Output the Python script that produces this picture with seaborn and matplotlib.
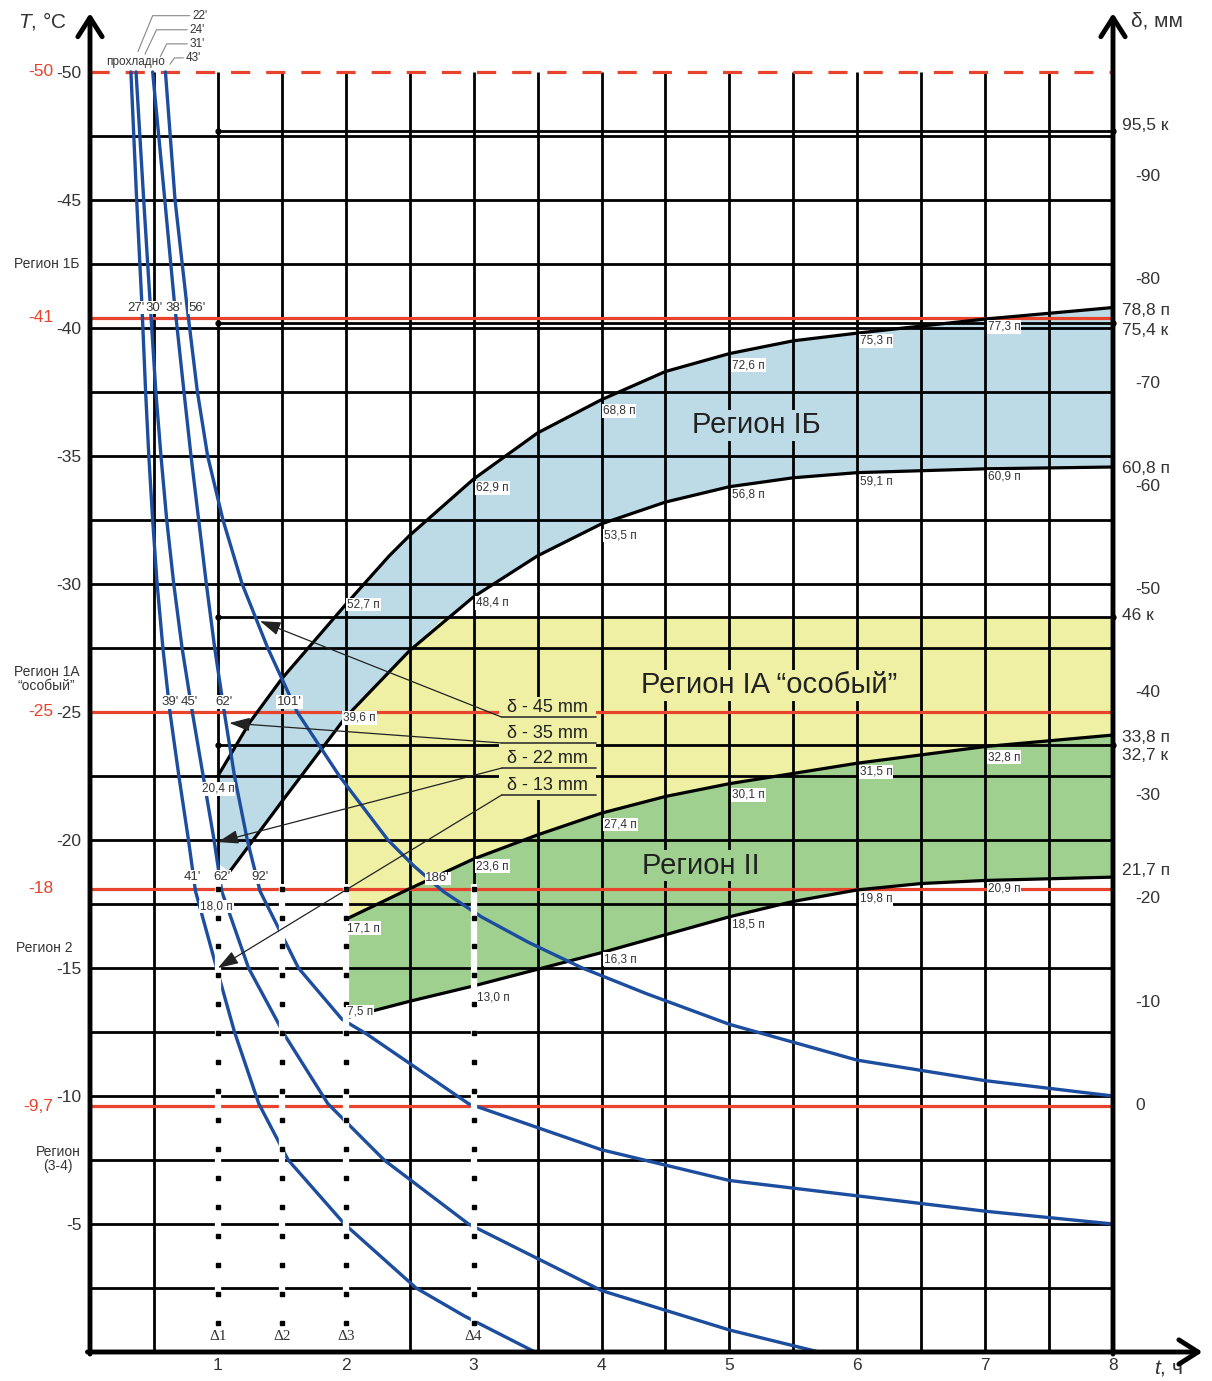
import numpy as np
import matplotlib
matplotlib.use("Agg")
import matplotlib.pyplot as plt
from matplotlib.patches import Rectangle
import seaborn as sns

sns.set_theme(style="white")
plt.rcParams["font.family"] = ["Liberation Sans", "DejaVu Sans"]
plt.rcParams["mathtext.fontset"] = "custom"
plt.rcParams["mathtext.it"] = "Liberation Sans:italic"
plt.rcParams["mathtext.rm"] = "Liberation Sans"

# ──────────────────────────────────────────
# DATA   t in hours, T in °C
# ──────────────────────────────────────────
# freezing-time curves for δ = 13 / 22 / 35 / 45 mm
t_13 = [0.32, 0.365, 0.405, 0.435, 0.46, 0.49, 0.525, 0.57, 0.625, 0.695, 0.77, 0.825, 0.99, 1.13, 1.32, 1.55, 1.99, 2.55, 2.93, 3.48]
T_13 = [-50, -45, -41, -37.5, -35, -32.5, -30, -27.5, -25, -22.5, -20, -18, -15, -12.5, -9.7, -7.5, -5, -2.5, -1.4, 0]
t_22 = [0.36, 0.42, 0.47, 0.515, 0.555, 0.60, 0.655, 0.72, 0.80, 0.885, 0.97, 1.03, 1.24, 1.52, 1.86, 2.3, 2.96, 4.0, 5.0, 5.7]
T_22 = [-50, -45, -41, -37.5, -35, -32.5, -30, -27.5, -25, -22.5, -20, -18, -15, -12.4, -9.7, -7.5, -5, -2.4, -0.86, 0]
t_35 = [0.49, 0.585, 0.66, 0.735, 0.79, 0.85, 0.91, 0.975, 1.05, 1.13, 1.23, 1.33, 1.63, 1.97, 2.17, 2.96, 4.0, 5.0, 6.0, 7.0, 8.0]
T_35 = [-50, -45, -41, -37.5, -35, -32.5, -30, -27.5, -25, -22.5, -20, -18, -15, -13, -12.4, -9.7, -7.9, -6.7, -6.1, -5.5, -5.0]
t_45 = [0.59, 0.665, 0.755, 0.84, 0.92, 1.04, 1.19, 1.39, 1.62, 1.95, 2.33, 2.53, 2.76, 3.06, 3.43, 3.85, 4.35, 5.0, 6.0, 7.0, 8.0]
T_45 = [-50, -45, -41, -37.5, -35, -32.5, -30, -27.5, -25, -22.5, -20, -19, -18, -17, -16, -15, -14, -12.8, -11.4, -10.6, -10.0]

# region boundaries
t_u1 = [1, 1.25, 1.5, 2, 2.34, 2.5, 3, 3.5, 4, 4.5, 5, 5.5, 6, 7, 8]
T_u1 = [-22.5, -24.6, -26.3, -29.2, -31.1, -31.9, -34.1, -35.9, -37.2, -38.3, -39.0, -39.5, -39.8, -40.35, -40.8]
t_l1 = [1.09, 1.5, 2, 2.5, 3, 3.5, 4, 4.5, 5, 5.5, 6, 7, 8]
T_l1 = [-18.75, -21.5, -24.8, -27.4, -29.5, -31.1, -32.35, -33.2, -33.8, -34.15, -34.35, -34.5, -34.57]
t_u2 = [2, 2.5, 3, 3.5, 4, 4.5, 5, 5.5, 6, 7, 8]
T_u2 = [-16.9, -18.1, -19.26, -20.2, -21.05, -21.7, -22.2, -22.6, -23.0, -23.65, -24.1]
t_l2 = [2, 2.5, 3, 3.5, 4, 4.5, 5, 5.5, 6, 6.5, 7, 8]
T_l2 = [-13.05, -13.7, -14.3, -14.95, -15.6, -16.3, -17.0, -17.6, -18.05, -18.3, -18.42, -18.55]
T_k_line = -28.7          # "46 к" – top of region IA
t_ia_cross = 2.77         # where the lower IБ curve meets it

# horizontal marker lines
red_T = [-40.4, -25, -18.1, -9.6]
red_labels = ["-41", "-25", "-18", "-9,7"]
k_T = [-47.7, -40.2, -28.7, -23.7]

# axes ticks
T_ticks = [-50, -45, -40, -35, -30, -25, -20, -15, -10, -5]
d_ticks = [90, 80, 70, 60, 50, 40, 30, 20, 10, 0]
right_T = [-47.9, -40.7, -39.9, -34.5, -28.75, -24.0, -23.3, -18.8]
right_labels = ["95,5 к", "78,8 п", "75,4 к", "60,8 п", "46 к", "33,8 п", "32,7 к", "21,7 п"]

# curve value labels (left edge t, T, text)
val_labels = [
    (0.875, -22.0, "20,4 п"), (2.01, -29.2, "52,7 п"), (3.02, -33.75, "62,9 п"), (4.01, -36.76, "68,8 п"),
    (5.02, -38.55, "72,6 п"), (6.02, -39.5, "75,3 п"), (7.02, -40.04, "77,3 п"),
    (1.98, -24.77, "39,6 п"), (3.02, -29.26, "48,4 п"), (4.02, -31.9, "53,5 п"), (5.02, -33.5, "56,8 п"),
    (6.02, -34.0, "59,1 п"), (7.02, -34.2, "60,9 п"),
    (2.01, -16.56, "17,1 п"), (3.02, -18.98, "23,6 п"), (4.02, -20.6, "27,4 п"), (5.02, -21.76, "30,1 п"),
    (6.02, -22.66, "31,5 п"), (7.02, -23.24, "32,8 п"),
    (2.01, -13.3, "7,5 п"), (3.03, -13.83, "13,0 п"), (4.02, -15.35, "16,3 п"), (5.02, -16.7, "18,5 п"),
    (6.02, -17.7, "19,8 п"), (7.02, -18.1, "20,9 п"), (0.86, -17.4, "18,0 п"),
]
# freezing-time labels (centre t, T, text)
time_labels = [
    (0.36, -40.8, "27'"), (0.5, -40.8, "30'"), (0.66, -40.8, "38'"), (0.84, -40.8, "56'"),
    (0.625, -25.4, "39'"), (0.78, -25.4, "45'"), (1.05, -25.4, "62'"), (1.56, -25.4, "101'"),
    (0.80, -18.55, "41'"), (1.03, -18.55, "62'"), (1.33, -18.55, "92'"), (2.72, -18.5, "186'"),
]
top_labels = ["22'", "24'", "31'", "43'"]
top_T = [-52.2, -51.65, -51.1, -50.55]

delta_names = ["δ - 45 mm", "δ - 35 mm", "δ - 22 mm", "δ - 13 mm"]
delta_tips = [(1.33, -28.55), (1.09, -24.57), (1.0, -19.92), (1.0, -15.0)]
delta_line_T = [-24.8, -23.79, -22.81, -21.76]

delta_marks = [1, 1.5, 2, 3]
delta_mark_names = ["Δ1", "Δ2", "Δ3", "Δ4"]

RED = "#e8432d"
BLUE = "#1c4d9e"
C_IB = "#bddbe6"
C_IA = "#eff0a3"
C_II = "#9fd08f"
GREY = "#333333"

# ──────────────────────────────────────────
# FIGURE
# ──────────────────────────────────────────
fig = plt.figure(figsize=(12.12, 13.81), dpi=100)
ax = fig.add_axes([90 / 1212, 29 / 1381, 8.7 * 127.875 / 1212, 52.3 * 25.6 / 1381])
ax.set_xlim(0, 8.7)
ax.set_ylim(0, -52.3)
for s in ax.spines.values():
    s.set_visible(False)
ax.set_facecolor("white")

# fills
ax.fill(t_u1 + t_l1[::-1] + [1.0], T_u1 + T_l1[::-1] + [-19.1], color=C_IB, lw=0, zorder=1)
ia_t = [2, 2, 2.5, t_ia_cross, 8] + t_u2[::-1]
ia_T = [T_u2[0], T_l1[2], T_l1[3], T_k_line, T_k_line] + T_u2[::-1]
ax.fill(ia_t, ia_T, color=C_IA, lw=0, zorder=1)
ax.fill(t_u2 + t_l2[::-1], T_u2 + T_l2[::-1], color=C_II, lw=0, zorder=1)

# grid
ax.hlines(np.arange(-47.5, 0, 2.5), 0, 8, color="black", lw=2, zorder=2)
for x in np.arange(0.5, 8, 0.5):
    ax.vlines(x, -50, -18.1 if x in delta_marks else 0, color="black", lw=2, zorder=2)

# "к" lines
ax.hlines(k_T, 1, 8, color="black", lw=2, zorder=2)
ax.plot([1] * len(k_T) + [8] * len(k_T), k_T + k_T, ls="none", marker="o", ms=3.5, color="black", zorder=3)

# red lines
ax.hlines(-50, 0, 8, color=RED, lw=2.3, linestyles=(0, (6, 5)), zorder=3)
ax.hlines(red_T, 0, 8, color=RED, lw=2.3, zorder=3)

# region boundaries
for tt, TT in [(t_u1, T_u1), (t_l1, T_l1), (t_u2, T_u2), (t_l2, T_l2)]:
    sns.lineplot(x=tt, y=TT, ax=ax, color="black", lw=2.3, sort=False, estimator=None, legend=False, zorder=3)

# freezing curves
for tt, TT in [(t_13, T_13), (t_22, T_22), (t_35, T_35), (t_45, T_45)]:
    sns.lineplot(x=tt, y=TT, ax=ax, color=BLUE, lw=2.4, sort=False, estimator=None, legend=False, zorder=4)

# dotted Δ lines
dot_T = np.arange(-18.1, -1.0, 1.13)
for x in delta_marks:
    ax.vlines(x, -18.3, 0, color="white", lw=4.5, zorder=5)
    ax.plot([x] * len(dot_T), dot_T, ls="none", marker="s", ms=3, color="black", zorder=6)
for x, name in zip(delta_marks, delta_mark_names):
    ax.text(x, -0.62, name, ha="center", va="center", fontsize=11, color=GREY,
            family=["Liberation Serif", "DejaVu Serif"], zorder=7)

# axes with arrows
arrow = dict(arrowstyle="->,head_length=0.55,head_width=0.35", lw=3.5, color="black",
             mutation_scale=25, shrinkA=0, shrinkB=0)
ax.annotate("", xy=(0, -52.3), xytext=(0, 0.08), arrowprops=arrow, annotation_clip=False, zorder=8)
ax.annotate("", xy=(8, -52.3), xytext=(8, 0.08), arrowprops=arrow, annotation_clip=False, zorder=8)
ax.annotate("", xy=(8.7, 0), xytext=(-0.02, 0), arrowprops=arrow, annotation_clip=False, zorder=8)

# ticks
ax.set_yticks(T_ticks, [str(v) for v in T_ticks])
ax.set_xticks(range(1, 9), [str(v) for v in range(1, 9)])
ax.tick_params(axis="both", length=0, labelsize=12.5, labelcolor=GREY)
ax.tick_params(axis="y", pad=6)
ax.tick_params(axis="x", pad=4)

sec = ax.secondary_yaxis(8 / 8.7, functions=(lambda T: (-T - 9.7) / 0.403, lambda d: -(9.7 + 0.403 * d)))
sec.set_yticks(d_ticks, ["0" if d == 0 else f"-{d}" for d in d_ticks])
sec.tick_params(length=0, pad=16, labelsize=12.5, labelcolor=GREY)
for s in sec.spines.values():
    s.set_visible(False)

for T, lab in zip(right_T, right_labels):
    ax.text(8.07, T, lab, ha="left", va="center", fontsize=12.5, color=GREY, clip_on=False)

# red labels on the left
ax.text(-0.29, -50, "-50", ha="right", va="center", fontsize=12.5, color=RED)
for T, lab in zip(red_T, red_labels):
    ax.text(-0.29, T, lab, ha="right", va="center", fontsize=12.5, color=RED)

# region names on the left
ax.text(-0.34, -42.5, "Регион 1Б", ha="center", va="center", fontsize=10, color=GREY)
ax.text(-0.34, -26.3, "Регион 1А\n\u201cособый\u201d", ha="center", va="center", fontsize=10, color=GREY, linespacing=1.0)
ax.text(-0.36, -15.8, "Регион 2", ha="center", va="center", fontsize=10, color=GREY)
ax.text(-0.25, -7.55, "Регион\n(3-4)", ha="center", va="center", fontsize=10, color=GREY, linespacing=1.0)

# axis titles
ax.text(-0.375, -52.0, "$T$, °C", ha="center", va="center", fontsize=15, color=GREY)
ax.text(8.14, -52.0, "δ, мм", ha="left", va="center", fontsize=15, color=GREY)
ax.text(8.43, 0.62, "$t$, ч", ha="center", va="center", fontsize=15, color=GREY)

# region names inside
ax.text(5.21, -36.2, "Регион IБ", ha="center", va="center", fontsize=21, color="#222",
        bbox=dict(facecolor=C_IB, edgecolor="none", pad=1), zorder=7)
ax.text(5.31, -26.05, "Регион IA \u201cособый\u201d", ha="center", va="center", fontsize=21, color="#222",
        bbox=dict(facecolor=C_IA, edgecolor="none", pad=1), zorder=7)
ax.text(4.78, -19.0, "Регион II", ha="center", va="center", fontsize=21, color="#222",
        bbox=dict(facecolor=C_II, edgecolor="none", pad=1), zorder=7)

# value labels
for t, T, lab in val_labels:
    ax.text(t, T, lab, ha="left", va="center", fontsize=8.5, color=GREY,
            bbox=dict(facecolor="white", edgecolor="none", pad=0.6), zorder=7)
for t, T, lab in time_labels:
    ax.text(t, T, lab, ha="center", va="center", fontsize=9.5, color=GREY,
            bbox=dict(facecolor="white", edgecolor="none", pad=0.6), zorder=7)

# top notes
ax.text(0.36, -50.4, "прохладно", ha="center", va="center", fontsize=8.5, color=GREY, zorder=7)
top_lead = [((0.78, 0.49, 0.375), -50.8), ((0.76, 0.52, 0.43), -50.7), ((0.76, 0.60, 0.55), -50.6), ((0.73, 0.66, 0.625), -50.3)]
for (xs, T_end), T, lab in zip(top_lead, top_T, top_labels):
    ax.plot([xs[0], xs[1], xs[2]], [T, T, T_end], color="#888", lw=0.8, clip_on=False, zorder=7)
    ax.text(xs[0] + 0.02, T, lab, ha="left", va="center", fontsize=8.5, color=GREY)

# δ legend with leader arrows
ax.add_patch(Rectangle((3.2, -25.6), 0.76, 4.04, facecolor=C_IA, edgecolor="none", zorder=5))
for name, tip, T in zip(delta_names, delta_tips, delta_line_T):
    ax.plot([3.22, 3.96], [T, T], color="#333", lw=1.2, zorder=6)
    ax.annotate("", xy=tip, xytext=(3.22, T),
                arrowprops=dict(arrowstyle="-|>,head_length=0.9,head_width=0.3", color="#222", lw=0.9,
                                shrinkA=0, shrinkB=0, mutation_scale=14), zorder=6)
    ax.text(3.58, T - 0.38, name, ha="center", va="center", fontsize=13, color="#222", zorder=7)

ax.set_xlabel("")
ax.set_ylabel("")
fig.savefig("out.png", dpi=100)
